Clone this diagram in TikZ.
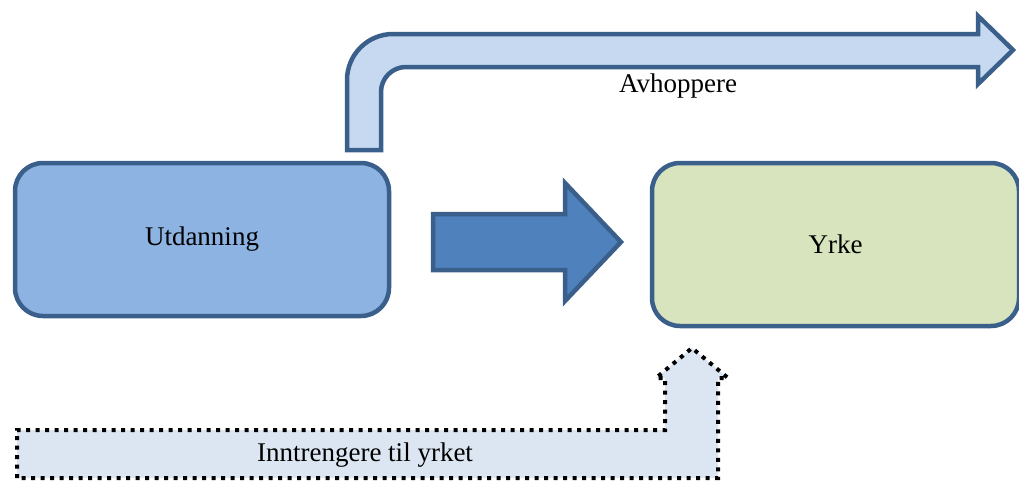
\documentclass[tikz,border=0pt]{standalone}
\usepackage{fontspec}
\setmainfont{Liberation Serif}
\definecolor{edgeblue}{HTML}{3A5F8B}
\definecolor{schoolfill}{HTML}{8DB3E2}
\definecolor{jobfill}{HTML}{D7E4BD}
\definecolor{flowfill}{HTML}{4F81BD}
\definecolor{dropfill}{HTML}{C6D9F1}
\definecolor{entryfill}{HTML}{DCE6F2}
\tikzset{
  stage/.style={draw=edgeblue, line width=4.5, rounded corners=28,
    inner sep=0pt, font=\fontsize{27}{30}\selectfont},
  blockarrow/.style={draw=edgeblue, line width=4.5, line join=miter},
  label/.style={font=\fontsize{27}{30}\selectfont, inner sep=0pt}
}
\begin{document}
\begin{tikzpicture}[x=1pt, y=-1pt]
  \useasboundingbox (0,0) rectangle (1019,480);

  % the two stages
  \node[stage, fill=schoolfill, minimum width=374, minimum height=153]
    (utd) at (202,239.5) {\raisebox{-2.5pt}{Utdanning}};
  \node[stage, fill=jobfill, minimum width=367, minimum height=163]
    (yrke) at (835.5,244.5) {\raisebox{-2.5pt}{Yrke}};

  % main flow from education to occupation
  \draw[blockarrow, fill=flowfill]
    (433,214) -- (565,214) -- (565,183) -- (621,242) -- (565,301)
    -- (565,270) -- (433,270) -- cycle;

  % drop-outs: bent arrow leaving upwards and to the right
  \draw[blockarrow, fill=dropfill]
    (347,150) -- (347,80) arc[start angle=180, end angle=270, radius=46]
    -- (978,34) -- (978,16) -- (1013,50) -- (978,84) -- (978,67)
    -- (406,67) arc[start angle=270, end angle=180, radius=25]
    -- (381,150) -- cycle;
  \node[label] (avh) at (678,86.5) {Avhoppere};

  % entrants from outside: dotted bent arrow up into the occupation
  \draw[line width=4, dash pattern=on 4 off 5.5, fill=entryfill]
    (17,478) -- (17,430) -- (665,430) -- (665,378) -- (656,378)
    -- (692,348) -- (728,378) -- (718,378) -- (718,478) -- cycle;
  \node[label] (inn) at (365,455.5) {Inntrengere til yrket};
\end{tikzpicture}
\end{document}
